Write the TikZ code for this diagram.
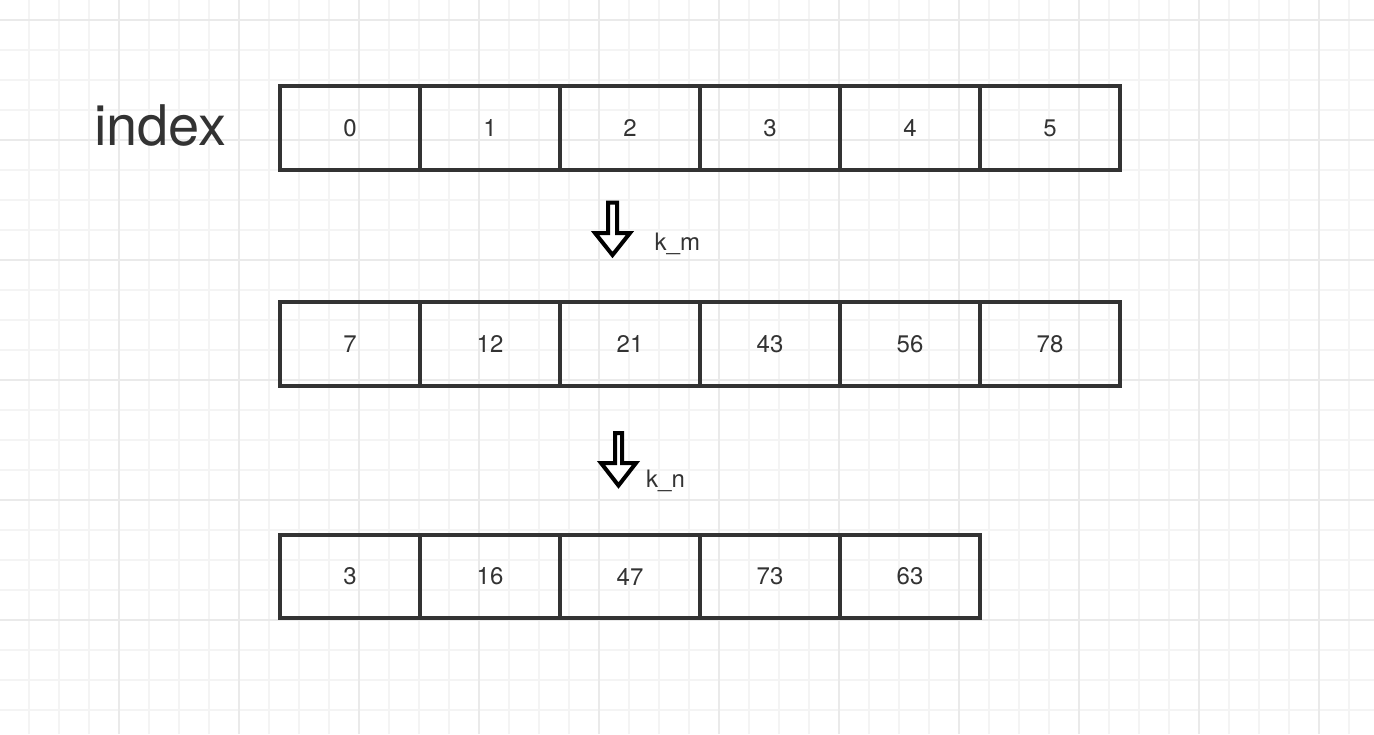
\documentclass[tikz,border=0pt]{standalone}
\usepackage{fontspec}
\setmainfont{TeX Gyre Heros}
\definecolor{ink}{HTML}{333333}
\definecolor{gridminor}{HTML}{F4F4F4}
\definecolor{gridmajor}{HTML}{EAEAEA}
\begin{document}
\begin{tikzpicture}[x=1pt,y=-1pt,
  cell/.style={draw=ink, line width=3.5pt, minimum width=140pt, minimum height=84pt,
    inner sep=0pt, outer sep=0pt, anchor=north west, text=ink, font=\fontsize{24}{24}\selectfont},
  lbl/.style={anchor=base west, inner sep=0pt, text=ink, font=\fontsize{24}{24}\selectfont},
  blockarrow/.style={draw=black, line width=4pt, line join=miter, fill=white}]
\useasboundingbox (0,0) rectangle (1374,734);
\fill[white] (0,0) rectangle (1374,734);
% grid
\foreach \k in {0,...,45} {
  \draw[gridminor, line width=1.5pt] (29+30*\k,0) -- (29+30*\k,734);
}
\foreach \k in {0,...,24} {
  \draw[gridminor, line width=1.5pt] (0,20+30*\k) -- (1374,20+30*\k);
}
\foreach \k in {0,...,10} {
  \draw[gridmajor, line width=2pt] (119+120*\k,0) -- (119+120*\k,734);
}
\foreach \k in {0,...,5} {
  \draw[gridmajor, line width=2pt] (0,20+120*\k) -- (1374,20+120*\k);
}
% index label
\node[anchor=base west, inner sep=0pt, text=ink, font=\fontsize{56}{56}\selectfont] (idx) at (94,145) {index};
% row 1
\foreach \t [count=\i from 0] in {0,1,2,3,4,5} {
  \node[cell] (a\i) at (280+140*\i,86) {\t};
}
% row 2
\foreach \t [count=\i from 0] in {7,12,21,43,56,78} {
  \node[cell] (b\i) at (280+140*\i,302) {\t};
}
% row 3
\foreach \t [count=\i from 0] in {3,16,47,73,63} {
  \node[cell, minimum height=83pt] (c\i) at (280+140*\i,535) {\t};
}
% arrows
\draw[blockarrow] (608,202.5) -- (617,202.5) -- (617,233) -- (630,233) -- (612.5,255) -- (595,233) -- (608,233) -- cycle;
\node[lbl] (km) at (654.5,250) {k\_m};
\draw[blockarrow] (615,433) -- (622,433) -- (622,463) -- (636,463) -- (618.5,485.5) -- (601,463) -- (615,463) -- cycle;
\node[lbl] (kn) at (646,487) {k\_n};
\end{tikzpicture}
\end{document}
